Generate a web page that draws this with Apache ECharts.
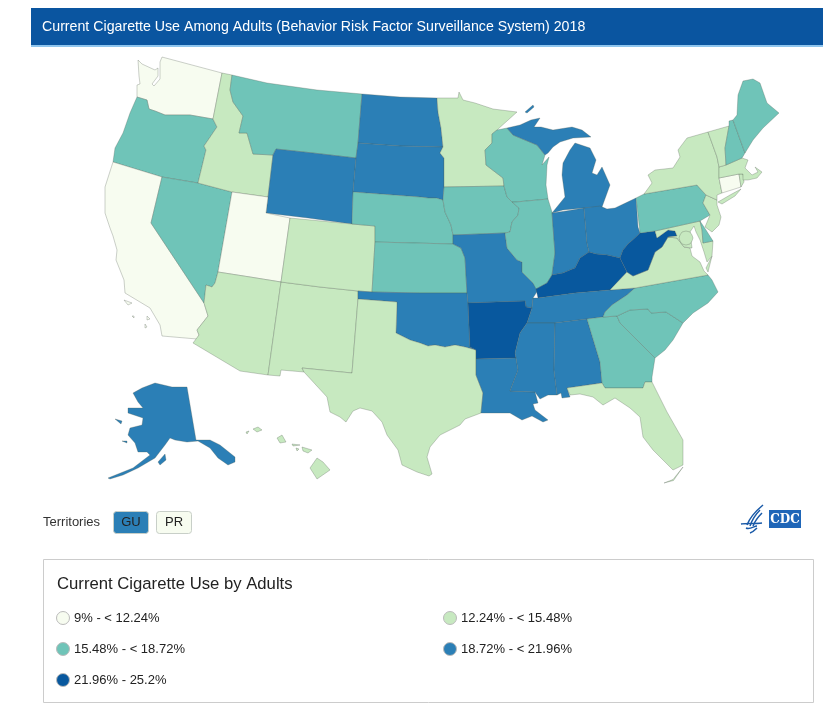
<!DOCTYPE html>
<html>
<head>
<meta charset="utf-8">
<style>html,body{margin:0;background:#fff}</style>
</head>
<body>
<div id="container" style="width:835px;height:708px"></div>
<script src="https://cdn.jsdelivr.net/npm/echarts@6/dist/echarts.min.js"></script>
<script>
var titleText = 'Current Cigarette Use Among Adults (Behavior Risk Factor Surveillance System) 2018';
var legendTitle = 'Current Cigarette Use by Adults';
var binLabels = ['9% - < 12.24%', '12.24% - < 15.48%', '15.48% - < 18.72%', '18.72% - < 21.96%', '21.96% - 25.2%'];
var binEdges = [9, 12.24, 15.48, 18.72, 21.96, 25.3];
var binColors = ['#f7fcf0', '#c7e9c0', '#6fc4b8', '#2b7fb6', '#08589e'];

var stateCodes = ['WA','OR','CA','NV','ID','MT','WY','UT','AZ','NM','CO','ND','SD','NE','KS','OK','TX','MN','IA','MO','AR','LA',
  'WI','IL','MI','IN','OH','KY','TN','MS','AL','GA','FL','SC','NC','VA','WV','MD','DC','DE','PA','NJ','NY','CT','RI','MA','VT','NH','ME','AK','HI'];
var stateRates = [12, 16, 11.2, 15.7, 14.3, 17, 18.8, 9, 14, 15.2, 14.5, 19, 19.3, 15.6, 17.3, 19.2, 14.7, 13.8, 16.1, 19.4, 22.7, 21.9,
  16, 15.5, 18.9, 21.1, 20.8, 23.6, 21.8, 20.4, 19.2, 16.1, 14.5, 18.6, 17.2, 14.9, 25.2, 12.7, 14, 16.5, 17, 13.7, 14.1, 12.1, 14, 13.4, 15.1, 15.6, 17.3, 19.9, 13.4];

var territoryCodes = ['GU', 'PR'];
var territoryRates = [21, 10];

// outlines traced on the page, one list of rings per state
var stateShapes = {
  WA: [[[162,57],[222,73],[213,119],[190,115],[165,115],[155,111],[149,109],[147,100],[137,97],[137,85],[140,84],[139,76],[138,60],[142,64],[155,70],[158,68],[158,76],[152,84],[154,86],[160,79],[160,62]]],
  OR: [[[137,97],[147,100],[149,109],[155,111],[165,115],[190,115],[213,119],[217,127],[204,146],[206,150],[198,183],[162,177],[113,162],[115,148],[123,133],[130,113]]],
  CA: [[[113,162],[162,177],[151,223],[204,303],[208,316],[197,330],[199,335],[197,339],[162,336],[160,325],[150,308],[125,293],[124,280],[116,260],[117,250],[113,236],[110,228],[105,213],[105,187]],
    [[124,300],[132,303],[128,305]],[[132,316],[134,316],[134,318]],[[147,316],[150,319],[147,320]],[[145,324],[147,327],[145,328]]],
  NV: [[[162,177],[198,183],[232,192],[218,272],[215,283],[212,287],[206,285],[204,303],[151,223]]],
  ID: [[[222,73],[232,75],[230,90],[233,102],[243,116],[239,133],[247,133],[253,154],[273,155],[268,197],[232,192],[198,183],[206,150],[204,146],[217,127],[213,119]]],
  MT: [[[232,75],[267,83],[317,90],[362,94],[358,143],[356,158],[313,153],[276,149],[273,155],[253,154],[247,133],[239,133],[243,116],[233,102],[230,90]]],
  WY: [[[276,149],[313,153],[356,158],[353,192],[352,224],[308,218],[266,213],[268,197],[273,155]]],
  UT: [[[232,192],[268,197],[266,213],[290,218],[281,282],[250,277],[218,272]]],
  AZ: [[[218,272],[250,277],[281,282],[268,375],[240,371],[193,343],[199,335],[197,330],[208,316],[204,303],[206,285],[212,287],[215,283]]],
  NM: [[[281,282],[320,287],[358,291],[358,299],[352,373],[302,368],[304,372],[281,370],[280,376],[268,375]]],
  CO: [[[290,218],[352,224],[375,226],[375,242],[372,292],[358,291],[320,287],[281,282]]],
  ND: [[[362,94],[400,97],[437,98],[438,112],[441,128],[443,147],[400,146],[358,143]]],
  SD: [[[358,143],[400,146],[443,147],[440,153],[444,158],[444,187],[443,200],[436,198],[428,198],[420,197],[353,192],[356,158]]],
  NE: [[[353,192],[420,197],[428,198],[436,198],[443,200],[445,212],[451,225],[453,235],[453,244],[414,243],[375,242],[375,226],[352,224]]],
  KS: [[[375,242],[414,243],[453,244],[461,248],[465,258],[467,293],[420,293],[372,292]]],
  OK: [[[358,291],[372,292],[420,293],[467,293],[468,303],[469,325],[470,347],[476,350],[465,347],[455,345],[445,347],[435,345],[428,346],[420,343],[410,340],[402,336],[396,333],[397,302],[358,299]]],
  TX: [[[358,299],[397,302],[396,333],[402,336],[410,340],[420,343],[428,346],[435,345],[445,347],[455,345],[465,347],[476,350],[476,359],[476,375],[483,393],[481,413],[465,419],[460,425],[440,435],[430,447],[427,457],[432,474],[429,476],[417,472],[402,465],[398,450],[387,435],[382,422],[372,411],[360,408],[353,411],[346,422],[340,417],[330,412],[327,397],[304,372],[302,368],[352,373]]],
  MN: [[[437,98],[458,98],[459,92],[463,100],[475,103],[487,107],[493,109],[517,112],[497,130],[492,134],[492,143],[485,150],[486,165],[503,178],[504,186],[444,187],[444,158],[440,153],[443,147],[441,128],[438,112]]],
  IA: [[[444,187],[504,186],[507,197],[512,202],[519,208],[518,215],[512,222],[510,232],[505,233],[453,235],[451,225],[445,212],[443,200]]],
  MO: [[[453,235],[480,234],[505,233],[507,248],[517,260],[522,262],[522,272],[533,283],[538,290],[533,298],[532,308],[526,307],[525,301],[468,303],[467,293],[465,258],[461,248],[453,244]]],
  AR: [[[468,303],[525,301],[526,307],[532,308],[527,323],[520,333],[515,353],[516,358],[476,359],[476,350],[470,347],[469,325]]],
  LA: [[[476,359],[516,358],[518,370],[510,391],[535,392],[538,403],[533,404],[535,410],[548,420],[543,422],[532,416],[522,420],[510,413],[493,413],[481,413],[483,393],[476,375]]],
  WI: [[[492,134],[497,130],[507,128],[513,135],[537,145],[545,155],[542,165],[549,157],[547,165],[546,185],[548,199],[516,202],[512,202],[507,197],[504,186],[503,178],[486,165],[485,150],[492,143]]],
  IL: [[[516,202],[548,199],[552,212],[555,253],[552,275],[547,283],[536,289],[533,283],[522,272],[522,262],[517,260],[507,248],[505,233],[510,232],[512,222],[518,215],[519,208],[512,202]]],
  MI: [[[562,175],[563,163],[570,150],[575,143],[590,148],[596,160],[592,173],[597,175],[602,167],[610,185],[602,207],[584,208],[563,210],[552,213],[565,197]],
    [[507,128],[520,125],[531,120],[540,118],[534,127],[541,127],[553,130],[572,127],[582,130],[591,137],[573,138],[560,142],[553,147],[548,153],[545,155],[537,145],[513,135]],
    [[525,112],[533,105],[534,107],[527,113]]],
  IN: [[[552,213],[566,211],[584,208],[587,243],[589,252],[580,258],[575,268],[570,270],[563,273],[552,275],[555,253]]],
  OH: [[[584,208],[600,206],[607,209],[615,208],[636,198],[638,227],[640,233],[637,236],[628,244],[623,250],[620,258],[607,255],[596,254],[589,252],[587,243]]],
  KY: [[[589,252],[596,254],[607,255],[620,258],[627,272],[610,290],[575,293],[538,298],[536,289],[547,283],[552,275],[563,273],[570,270],[575,268],[580,258]]],
  TN: [[[538,298],[575,293],[610,290],[635,288],[627,295],[612,305],[605,312],[603,317],[587,319],[555,323],[527,323],[532,308],[533,298]]],
  MS: [[[527,323],[555,323],[554,370],[557,395],[548,395],[540,399],[535,392],[510,391],[518,370],[516,358],[515,353],[520,333]]],
  AL: [[[555,323],[587,319],[600,362],[602,383],[567,388],[570,397],[562,398],[561,393],[557,395],[554,370]]],
  GA: [[[587,319],[603,317],[617,316],[620,323],[635,338],[655,358],[652,377],[652,382],[645,382],[643,388],[605,388],[602,383],[600,362]]],
  FL: [[[567,388],[602,383],[605,388],[643,388],[645,382],[652,382],[667,412],[683,440],[683,465],[673,470],[653,450],[643,437],[640,417],[630,408],[615,398],[603,405],[593,397],[580,394],[570,395]],
    [[664,483],[673,479.5],[683,467],[673.5,480.5]]],
  SC: [[[617,316],[630,310],[648,309],[651,313],[666,312],[683,323],[673,340],[665,350],[655,358],[635,338],[620,323]]],
  NC: [[[635,288],[708,275],[712,280],[718,292],[708,303],[693,313],[683,323],[666,312],[651,313],[648,309],[630,310],[617,316],[603,317],[605,312],[612,305],[627,295]]],
  VA: [[[610,290],[627,272],[633,276],[648,270],[655,252],[662,247],[668,237],[677,238],[684,247],[690,248],[692,256],[700,262],[704,271],[708,275],[635,288]],
    [[712,256],[708,272],[706,268]]],
  WV: [[[640,233],[655,231],[657,238],[668,230],[675,231],[677,236],[668,237],[662,247],[655,252],[648,270],[633,276],[627,272],[620,258],[623,250],[628,244],[637,236]]],
  MD: [[[655,231],[700,221],[702,230],[703,243],[713,241],[712,256],[707,262],[704,252],[700,240],[696,232],[694,226],[690,232],[692,248],[684,247],[677,238],[668,237],[677,236],[675,231],[668,230],[657,238]]],
  DC: [[[693,238],[692,241],[690,244],[686,245],[682,244],[680,241],[679,238],[680,235],[682,232],[686,231],[690,232],[692,235]]],
  DE: [[[700,221],[706,230],[713,241],[703,243],[702,230]]],
  PA: [[[636,198],[644,194],[697,185],[706,195],[703,203],[710,215],[700,221],[655,231],[640,233]]],
  NJ: [[[706,195],[717,200],[717,205],[721,217],[719,225],[712,232],[705,227],[710,215],[703,203]]],
  NY: [[[644,194],[652,183],[648,175],[655,170],[673,168],[680,157],[678,150],[687,138],[708,132],[717,157],[719,167],[719,178],[722,193],[717,195],[717,200],[706,195],[697,185]],
    [[718,202],[730,195],[741,189],[735,196],[722,204]]],
  CT: [[[719,178],[739,174],[741,187],[722,193]]],
  RI: [[[739,174],[743,174],[744,182],[741,187]]],
  MA: [[[719,167],[726,165],[742,158],[748,160],[745,168],[752,175],[758,172],[755,167],[762,172],[757,178],[748,180],[743,180],[743,174],[739,174],[719,178]]],
  VT: [[[708,132],[729,126],[725,148],[726,165],[719,167],[717,157]]],
  NH: [[[729,121],[733,120],[745,153],[742,158],[726,165],[725,148],[729,126]]],
  ME: [[[733,120],[737,115],[738,95],[743,81],[753,79],[760,83],[767,103],[779,113],[763,128],[753,140],[745,153]]],
  AK: [[[133,393],[142,388],[155,383],[172,387],[187,387],[196,440],[210,440],[220,445],[235,457],[235,462],[228,465],[218,458],[210,448],[198,441],[187,442],[175,440],[170,438],[165,445],[155,458],[138,468],[123,475],[110,479],[108,478],[133,468],[150,455],[147,452],[138,452],[135,443],[128,435],[130,428],[142,425],[143,418],[128,413],[128,408],[143,408],[138,402]],
    [[158,462],[165,454],[166,460],[160,465]],[[115,419],[122,421],[121,424]],[[122,441],[127,441],[127,443]]],
  HI: [[[317,458],[323,462],[330,470],[317,479],[310,468]],[[302,447],[312,450],[308,453],[303,451]],[[292,444],[300,445],[293,446]],[[296,448],[299,449],[297,451]],
    [[277,438],[282,435],[286,442],[280,443]],[[253,429],[258,427],[262,430],[257,432]],[[246,432],[249,431],[247,434]]]
};

var features = stateCodes.map(function (code) {
  return {
    type: 'Feature',
    properties: { name: code },
    geometry: { type: 'MultiPolygon', coordinates: stateShapes[code].map(function (ring) { return [ring.concat([ring[0]])]; }) }
  };
});
echarts.registerMap('usa', { type: 'FeatureCollection', features: features });

function binColor(rate) {
  for (var i = 0; i < binColors.length; i++) {
    if (rate >= binEdges[i] && rate < binEdges[i + 1]) return binColors[i];
  }
}

var font = '"Liberation Sans", Arial, sans-serif';
var elements = [
  { type: 'rect', shape: { x: 31, y: 8, width: 792, height: 37 }, style: { fill: '#0a55a0' } },
  { type: 'rect', shape: { x: 31, y: 45, width: 792, height: 2 }, style: { fill: '#8ec5ee' } },
  { type: 'text', x: 42, y: 27, style: { text: titleText, fill: '#fff', font: '14.2px ' + font, textVerticalAlign: 'middle' } },
  { type: 'text', x: 43, y: 522, style: { text: 'Territories', fill: '#333', font: '13px ' + font, textVerticalAlign: 'middle' } },
  { type: 'rect', shape: { x: 43.5, y: 559.5, width: 770, height: 143 }, style: { fill: '#fff', stroke: '#ccc', lineWidth: 1 } },
  { type: 'text', x: 57, y: 584, style: { text: legendTitle, fill: '#222', font: '16.7px ' + font, textVerticalAlign: 'middle' } }
];

territoryCodes.forEach(function (code, i) {
  var left = 113.5 + i * 43;
  elements.push({ type: 'rect', shape: { x: left, y: 511.5, width: 35, height: 22, r: 3 },
    style: { fill: binColor(territoryRates[i]), stroke: '#c8cfc8', lineWidth: 1 } });
  elements.push({ type: 'text', x: left + 17.5, y: 522.5,
    style: { text: code, fill: '#222', font: '13px ' + font, textAlign: 'center', textVerticalAlign: 'middle' } });
});

binLabels.forEach(function (label, i) {
  var cx = i % 2 ? 450 : 63;
  var cy = 618 + Math.floor(i / 2) * 31;
  elements.push({ type: 'circle', shape: { cx: cx, cy: cy, r: 6.5 }, style: { fill: binColors[i], stroke: '#bbb', lineWidth: 1 } });
  elements.push({ type: 'text', x: cx + 11, y: cy, style: { text: label, fill: '#222', font: '13px ' + font, textVerticalAlign: 'middle' } });
});

// CDC logo, rough
[[763,505,757,510,750,517,747,525], [760,510,755,515,752,520,750,526], [762,513,758,517,755,521,753,526],
 [741,524,747,523,755,524,762,523], [746,528,750,530,754,526,757,526], [750,533,753,532,755,530,757,528]].forEach(function (c) {
  elements.push({ type: 'bezierCurve', shape: { x1: c[0], y1: c[1], cpx1: c[2], cpy1: c[3], cpx2: c[4], cpy2: c[5], x2: c[6], y2: c[7] },
    style: { fill: null, stroke: '#1a5aa8', lineWidth: 1.5 } });
});
elements.push({ type: 'rect', shape: { x: 769, y: 510, width: 32, height: 18 }, style: { fill: '#1f66b8' } });
elements.push({ type: 'text', x: 785, y: 519.5, style: { text: 'CDC', fill: '#fff', font: 'bold 12px "DejaVu Serif", serif', textAlign: 'center', textVerticalAlign: 'middle' } });

var myChart = echarts.init(document.getElementById('container'));
myChart.setOption({
  animation: false,
  backgroundColor: '#fff',
  visualMap: {
    show: false,
    type: 'piecewise',
    seriesIndex: 0,
    pieces: binColors.map(function (color, i) {
      return { gte: binEdges[i], lt: binEdges[i + 1], color: color };
    })
  },
  series: [{
    type: 'map',
    map: 'usa',
    silent: true,
    aspectScale: 1,
    left: 0,
    top: 0,
    width: 835,
    height: 708,
    boundingCoords: [[0, 0], [835, 708]],
    projection: {
      project: function (p) { return p; },
      unproject: function (p) { return p; }
    },
    label: { show: false },
    itemStyle: { borderColor: 'rgba(80,90,80,0.36)', borderWidth: 0.8 },
    data: stateCodes.map(function (code, i) { return { name: code, value: stateRates[i] }; })
  }],
  graphic: { elements: elements }
});
</script>
</body>
</html>
